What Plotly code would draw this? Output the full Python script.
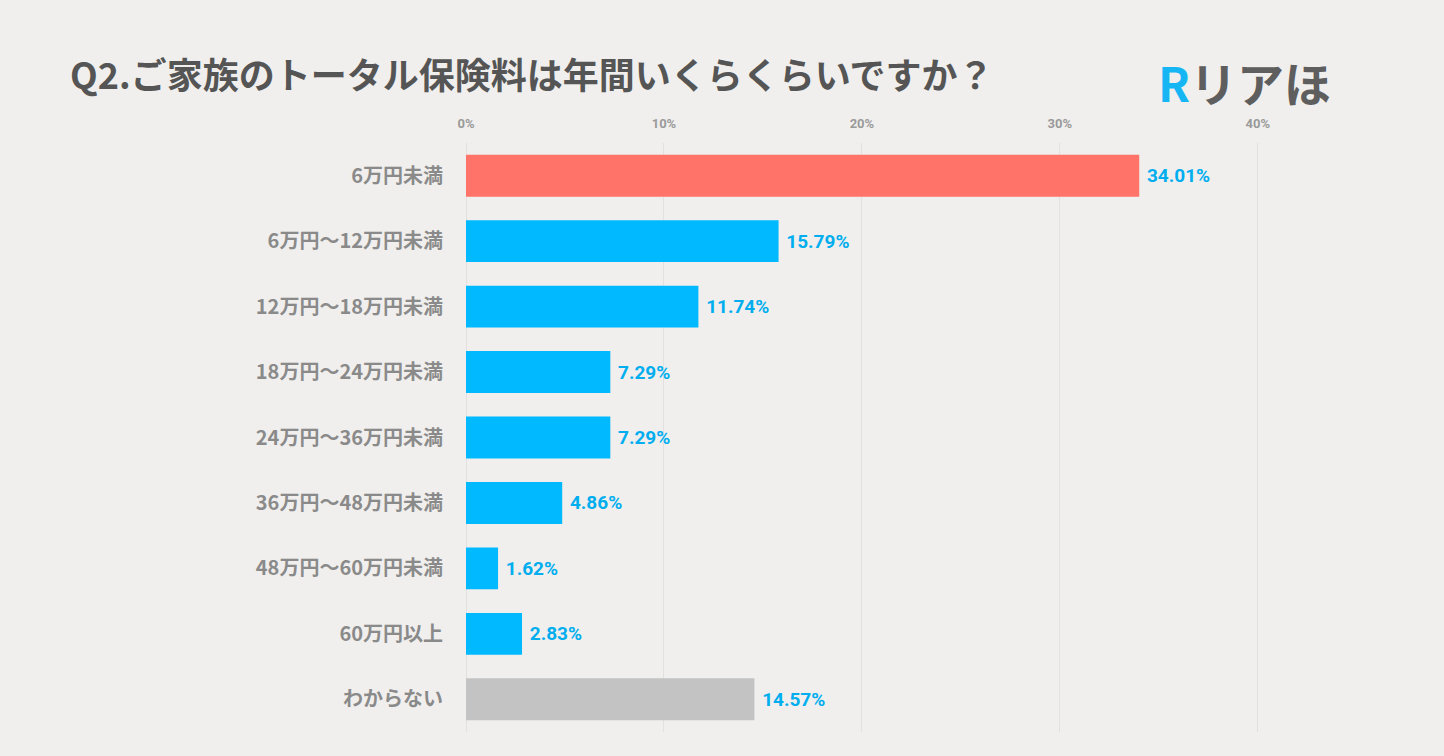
import plotly.graph_objects as go

categories = [
    "6万円未満",
    "6万円～12万円未満",
    "12万円～18万円未満",
    "18万円～24万円未満",
    "24万円～36万円未満",
    "36万円～48万円未満",
    "48万円～60万円未満",
    "60万円以上",
    "わからない",
]
values = [34.01, 15.79, 11.74, 7.29, 7.29, 4.86, 1.62, 2.83, 14.57]
tick_vals = [0, 10, 20, 30, 40]
tick_text = ["0%", "10%", "20%", "30%", "40%"]

bar_colors = ["#ff7369"] + ["#00b9ff"] * 7 + ["#c3c3c3"]
bg = "#f0efed"

fig = go.Figure()
fig.add_trace(
    go.Bar(
        x=values,
        y=categories,
        orientation="h",
        marker=dict(color=bar_colors, line=dict(width=0)),
        width=0.64,
        text=["\u00a0" + f"{v:.2f}%" for v in values],
        textposition="outside",
        cliponaxis=False,
        textfont=dict(family="Roboto, Noto Sans CJK JP", size=19, color="#00aeef", weight="bold"),
        hoverinfo="skip",
    )
)

fig.update_xaxes(
    side="top",
    range=[0, 44],
    tickvals=tick_vals,
    ticktext=tick_text,
    tickfont=dict(family="Roboto", size=13, color="#9a9a9a", weight="bold"),
    showgrid=True,
    gridcolor="#e2e1df",
    gridwidth=1,
    zeroline=True,
    zerolinecolor="#e2e1df",
    zerolinewidth=1,
    showline=False,
    ticks="",
    ticklabelstandoff=11,
)
fig.update_yaxes(
    categoryorder="array",
    categoryarray=categories,
    autorange="reversed",
    tickfont=dict(family="Noto Sans CJK JP", size=20, color="#8a8a8a", weight="bold"),
    showgrid=False,
    ticks="",
    ticklabelstandoff=22,
)

fig.add_annotation(
    text="Q2.ご家族のトータル保険料は年間いくらくらいですか？",
    xref="paper", yref="paper",
    x=(68 - 466) / 871, y=1 + 70 / 589,
    xanchor="left", yanchor="middle",
    showarrow=False,
    font=dict(family="Noto Sans CJK JP", size=36, color="#555555", weight="bold"),
)
fig.add_annotation(
    text="<span style='color:#16b6f5'>R</span>リアほ",
    xref="paper", yref="paper",
    x=(1333 - 466) / 871, y=1 + 62 / 589,
    xanchor="right", yanchor="middle",
    showarrow=False,
    font=dict(family="Noto Sans CJK JP", size=47, color="#5e5e5e", weight="bold"),
)

fig.update_layout(
    width=1444,
    height=756,
    margin=dict(l=466, r=107, t=143, b=24),
    paper_bgcolor=bg,
    plot_bgcolor=bg,
    showlegend=False,
    bargap=0.36,
)

fig.write_html(
    "out.html",
    config={"displayModeBar": False},
    post_script="document.body.style.margin='0';document.body.style.overflow='hidden';document.body.style.background='" + bg + "';",
)
